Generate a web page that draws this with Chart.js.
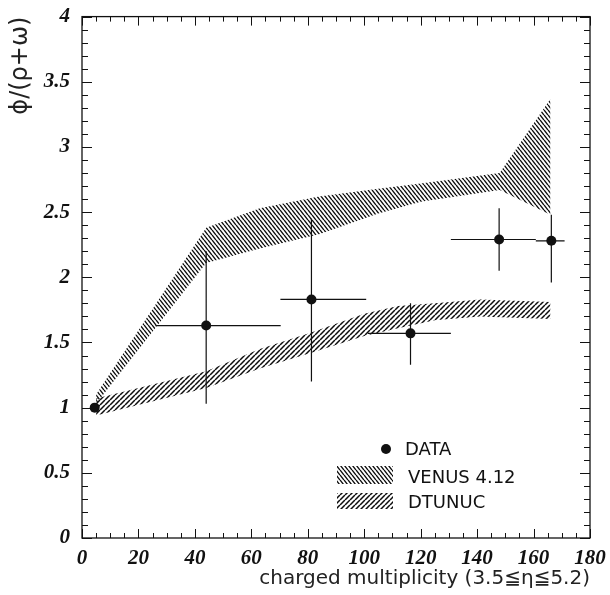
<!DOCTYPE html>
<html>
<head>
<meta charset="utf-8">
<script src="https://cdn.jsdelivr.net/npm/chart.js@4.4.0/dist/chart.umd.min.js"></script>
<style>
  body { margin: 0; background: #fff; }
</style>
</head>
<body>
<canvas id="phiRatio" width="610" height="595"></canvas>
<script>
// measured phi/(rho+omega) points, with the ends of their error bars
const dataX = [4.5, 44, 81.3, 116.4, 147.8, 166.3];
const dataY = [1.0, 1.63, 1.83, 1.57, 2.29, 2.28];
const xLow = [4.5, 26, 70.3, 101.3, 130.7, 160.8];
const xHigh = [4.5, 70.4, 100.7, 130.7, 160.8, 171];
const yLow = [1.0, 1.03, 1.20, 1.33, 2.05, 1.96];
const yHigh = [1.0, 2.20, 2.45, 1.80, 2.53, 2.48];

// VENUS 4.12 band (lower / upper edge)
const venusX = [5, 44, 63, 84, 105, 120, 148, 166];
const venusLow = [1.03, 2.11, 2.22, 2.33, 2.49, 2.58, 2.67, 2.48];
const venusHigh = [1.10, 2.38, 2.53, 2.62, 2.68, 2.72, 2.80, 3.37];

// DTUNUC band (lower / upper edge)
const dtunucX = [5, 44, 63, 81, 100, 112, 125, 141, 166];
const dtunucLow = [0.94, 1.15, 1.30, 1.42, 1.55, 1.61, 1.67, 1.70, 1.68];
const dtunucHigh = [1.07, 1.28, 1.45, 1.575, 1.72, 1.78, 1.80, 1.83, 1.81];

const yTickLabels = ['0', '0.5', '1', '1.5', '2', '2.5', '3', '3.5', '4'];
const xMinorStep = 5;
const yMinorStep = 0.1;

const canvas = document.getElementById('phiRatio');
const ctx = canvas.getContext('2d');

function hatch(w, h, lw, back) {
  const c = document.createElement('canvas');
  c.width = w;
  c.height = h;
  const g = c.getContext('2d');
  g.strokeStyle = '#0d0d0d';
  g.lineWidth = lw;
  g.beginPath();
  for (let k = -1; k <= 1; k++) {
    if (back) {
      g.moveTo(k * w, 0);
      g.lineTo(k * w + w, h);
    } else {
      g.moveTo(k * w, h);
      g.lineTo(k * w + w, 0);
    }
  }
  g.stroke();
  return ctx.createPattern(c, 'repeat');
}

const venusHatch = hatch(4, 5, 1.4, true);
const dtunucHatch = hatch(5, 5, 1.5, false);

const pts = (xs, ys) => xs.map((x, i) => ({x: x, y: ys[i]}));

// frame with inward ticks on all four sides
const frame = {
  id: 'frame',
  afterDatasetsDraw(chart) {
    const {ctx, chartArea: a, scales: {x, y}} = chart;
    ctx.save();
    ctx.strokeStyle = '#111';
    ctx.lineWidth = 1.3;
    ctx.strokeRect(a.left, a.top, a.right - a.left, a.bottom - a.top);
    ctx.lineWidth = 1;
    ctx.beginPath();
    for (let v = x.min; v <= x.max + 0.001; v += xMinorStep) {
      const px = Math.round(x.getPixelForValue(v)) + 0.5;
      const len = Math.abs(v % 20) < 0.001 ? 9 : 5;
      ctx.moveTo(px, a.bottom); ctx.lineTo(px, a.bottom - len);
      ctx.moveTo(px, a.top); ctx.lineTo(px, a.top + len);
    }
    for (let i = 0; i <= Math.round((y.max - y.min) / yMinorStep); i++) {
      const v = y.min + i * yMinorStep;
      const py = Math.round(y.getPixelForValue(v)) + 0.5;
      const len = i % 5 === 0 ? 10 : 6;
      ctx.moveTo(a.left, py); ctx.lineTo(a.left + len, py);
      ctx.moveTo(a.right, py); ctx.lineTo(a.right - len, py);
    }
    ctx.stroke();
    ctx.restore();
  }
};

// horizontal and vertical error bars of the data points
const errorBars = {
  id: 'errorBars',
  afterDatasetsDraw(chart) {
    const {ctx, scales: {x, y}} = chart;
    ctx.save();
    ctx.strokeStyle = '#111';
    ctx.lineWidth = 1.2;
    ctx.beginPath();
    dataX.forEach((v, i) => {
      const px = x.getPixelForValue(v);
      const py = y.getPixelForValue(dataY[i]);
      ctx.moveTo(x.getPixelForValue(xLow[i]), py);
      ctx.lineTo(x.getPixelForValue(xHigh[i]), py);
      ctx.moveTo(px, y.getPixelForValue(yLow[i]));
      ctx.lineTo(px, y.getPixelForValue(yHigh[i]));
    });
    ctx.stroke();
    ctx.restore();
  }
};

// legend inside the lower right part of the frame
const legendBox = {
  id: 'legendBox',
  afterDraw(chart) {
    const ctx = chart.ctx;
    const sets = chart.data.datasets;
    ctx.save();
    ctx.fillStyle = '#111';
    ctx.beginPath();
    ctx.arc(386, 449, 5, 0, Math.PI * 2);
    ctx.fill();
    ctx.fillStyle = venusHatch;
    ctx.fillRect(337, 466, 56, 18);
    ctx.fillStyle = dtunucHatch;
    ctx.fillRect(337, 493, 56, 16);
    ctx.fillStyle = '#111';
    ctx.font = '18px "DejaVu Sans"';
    ctx.textBaseline = 'middle';
    ctx.fillText(sets[0].label, 405, 450);
    ctx.fillText(sets[2].label, 408, 478);
    ctx.fillText(sets[4].label, 408, 503);
    ctx.restore();
  }
};

const tickFont = {family: '"Liberation Serif"', size: 21, weight: 'bold', style: 'italic'};

new Chart(ctx, {
  type: 'line',
  data: {
    datasets: [{
      label: 'DATA',
      data: pts(dataX, dataY),
      showLine: false,
      pointRadius: 5,
      pointBackgroundColor: '#111',
      pointBorderColor: '#111',
      pointBorderWidth: 0
    }, {
      label: 'VENUS low',
      data: pts(venusX, venusLow),
      borderColor: 'rgba(0,0,0,0)',
      pointRadius: 0,
      fill: false
    }, {
      label: 'VENUS 4.12',
      data: pts(venusX, venusHigh),
      borderColor: 'rgba(0,0,0,0)',
      backgroundColor: venusHatch,
      pointRadius: 0,
      fill: '-1'
    }, {
      label: 'DTUNUC low',
      data: pts(dtunucX, dtunucLow),
      borderColor: 'rgba(0,0,0,0)',
      pointRadius: 0,
      fill: false
    }, {
      label: 'DTUNUC',
      data: pts(dtunucX, dtunucHigh),
      borderColor: 'rgba(0,0,0,0)',
      backgroundColor: dtunucHatch,
      pointRadius: 0,
      fill: '-1'
    }]
  },
  options: {
    responsive: false,
    animation: false,
    layout: {
      padding: {top: 14, right: 20, left: 0, bottom: 0}
    },
    scales: {
      x: {
        type: 'linear',
        min: 0,
        max: 180,
        grid: {display: false},
        border: {display: false},
        ticks: {stepSize: 20, color: '#111', font: tickFont, padding: 0, maxRotation: 0},
        title: {
          display: true,
          text: 'charged multiplicity (3.5≦η≦5.2)',
          align: 'end',
          color: '#222',
          font: {family: '"DejaVu Sans"', size: 20, weight: 'normal'},
          padding: {top: 0, bottom: 4}
        },
        afterFit(scale) { scale.height = 57; }
      },
      y: {
        min: 0,
        max: 4,
        grid: {display: false},
        border: {display: false},
        ticks: {
          stepSize: 0.5,
          color: '#111',
          font: tickFont,
          padding: 4,
          callback: (v, i) => yTickLabels[i]
        },
        title: {
          display: true,
          text: 'ϕ/(ρ+ω)',
          align: 'end',
          color: '#222',
          font: {family: '"DejaVu Sans"', size: 24, weight: 'normal'},
          padding: {top: 6, bottom: 0}
        },
        afterFit(scale) { scale.width = 82; }
      }
    },
    plugins: {
      legend: {display: false},
      tooltip: {enabled: false}
    }
  },
  plugins: [frame, errorBars, legendBox]
});
</script>
</body>
</html>
